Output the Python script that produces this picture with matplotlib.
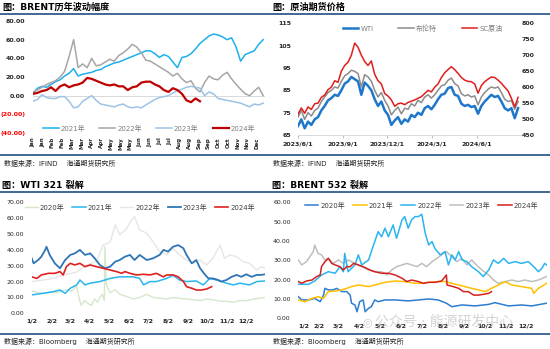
import numpy as np
import pandas as pd
import matplotlib
matplotlib.use('Agg')
import matplotlib.pyplot as plt
from matplotlib.lines import Line2D

plt.rcParams['font.family'] = ['DejaVu Sans', 'Noto Sans CJK SC']
plt.rcParams['axes.unicode_minus'] = False

# ---------------- data ----------------
# panel 1: BRENT yearly change, weekly samples
months_p1 = ['Jan', 'Jan', 'Feb', 'Feb', 'Mar', 'Mar', 'Apr', 'Apr', 'May', 'May', 'May', 'Jun',
             'Jun', 'Jul', 'Jul', 'Aug', 'Aug', 'Sep', 'Sep', 'Oct', 'Oct', 'Nov', 'Nov', 'Dec']
brent_2021 = [2, 8, 10, 9, 12, 15, 17, 21, 24, 29, 21, 23, 24, 25, 27, 28, 31, 33, 35, 36,
              38, 40, 42, 44, 46, 48, 48, 45, 41, 44, 42, 36, 30, 41, 42, 45, 50, 56, 60, 64,
              66, 65, 63, 60, 62, 52, 37, 44, 46, 48, 55, 60]
brent_2022 = [4, 6, 9, 12, 14, 16, 20, 26, 42, 60, 30, 34, 30, 40, 32, 33, 36, 39, 37, 43,
              46, 50, 55, 52, 46, 38, 37, 34, 31, 28, 25, 21, 24, 18, 14, 16, 8, 4, 14, 21,
              18, 17, 22, 25, 18, 12, 7, 2, 0, 5, 9, 0]
brent_2023 = [-6, -4, 1, -2, -3, -3, -1, -1, -6, -13, -12, -6, -3, 0, -5, -9, -10, -11, -12, -10,
              -9, -12, -13, -12, -13, -10, -7, -4, -2, -1, 0, 3, 5, 7, 9, 10, 9, 8, 0, 4,
              2, -3, -4, -5, -6, -7, -8, -10, -12, -9, -10, -8]
brent_2024 = [2, 3, 5, 6, 9, 5, 10, 12, 9, 11, 12, 14, 19, 18, 16, 14, 12, 11, 12, 10,
              10, 6, 9, 10, 14, 15, 15, 12, 10, 6, 4, 8, 6, 2, -5, -7, -3, -6]

# panel 2: crude futures prices, weekly samples
wti = [69, 72, 68, 71, 69.5, 72, 73, 76, 78, 80.5, 81.5, 83, 82.5, 85, 88, 89, 91, 90, 89, 83,
       88.5, 87, 85, 81, 78, 80, 76, 74, 69.5, 71.5, 73, 70, 72, 71, 74, 73, 75, 74, 77, 78,
       76.5, 78.5, 81, 83, 83.5, 86, 86.5, 83, 82.5, 79, 78, 78.5, 77.5, 78, 74.5, 78, 80, 81.5, 83, 82,
       82.5, 80, 77, 76, 77, 72.5, 77]
brent = [73, 76, 72, 75, 73.5, 76, 77, 80, 82, 84, 85, 86.5, 86, 89, 91.5, 92.5, 94, 93.5, 92.5, 86.5,
         92, 91, 89, 85, 82, 84, 80.5, 78, 74, 76, 77.5, 74.5, 77, 76.5, 79, 78, 80.5, 79.5, 82, 83,
         81.5, 83, 85, 87, 87.5, 89.5, 90.5, 88, 87, 83.5, 82.5, 83, 82, 82.5, 78.5, 82, 84, 85.5, 86.5, 86,
         86.5, 84, 81, 80, 80.5, 76.5, 80]
sc = [515, 535, 518, 538, 530, 548, 550, 568, 575, 592, 600, 620, 615, 650, 668, 678, 700, 738, 725, 700,
      680, 668, 682, 640, 620, 610, 580, 572, 560, 540, 548, 550, 545, 552, 556, 560, 565, 570, 580, 590,
      585, 600, 610, 630, 645, 655, 664, 655, 643, 630, 622, 618, 617, 610, 581, 605, 617, 625, 632, 630,
      622, 612, 600, 588, 565, 538, 568]
p2_dates = pd.date_range('2023-06-01', '2024-08-24', periods=len(wti))
p2_ticks = ['2023-06-01', '2023-09-01', '2023-12-01', '2024-03-01', '2024-06-01']
p2_ticklabels = ['2023/6/1', '2023/9/1', '2023/12/1', '2024/3/1', '2024/6/1']

# panels 3/4: day offset from Jan 2
month_days = [0, 31, 59, 90, 120, 151, 181, 212, 243, 273, 304, 334]
month_labels = ['1/2', '2/2', '3/2', '4/2', '5/2', '6/2', '7/2', '8/2', '9/2', '10/2', '11/2', '12/2']

# WTI 321 crack
w20_d = [0, 10, 20, 28, 40, 54, 62, 70, 74, 77, 82, 88, 93, 98, 103, 106, 110, 113, 114, 116, 122, 130,
         137, 148, 158, 168, 179, 189, 200, 210, 220, 230, 241, 252, 262, 272, 283, 295, 305, 314, 324,
         334, 345, 355, 363]
w20_v = [14, 13, 12.5, 13.5, 13, 15, 14, 17, 9, 5, 8, 6, 5, 9, 7, 10, 12, 8, 42, 18, 13, 15,
         12, 10.5, 9, 10, 12, 10, 9.5, 9, 10, 9.5, 9, 8.5, 8, 9, 8.5, 7.5, 7.5, 7, 8,
         8, 9, 9.5, 10]
w21_d = [0, 18, 34, 44, 52, 60, 70, 75, 83, 91, 106, 122, 137, 158, 168, 174, 184, 194, 210, 220,
         230, 241, 256, 267, 277, 288, 303, 314, 324, 339, 350, 363]
w21_v = [11.6, 12.6, 13.7, 14.7, 12.6, 15.8, 17.9, 21, 17.9, 19, 20, 22, 23, 23, 22, 17.9, 20, 20, 22, 24,
         21, 20, 20.4, 17.9, 22, 21, 19, 17.9, 19, 17.9, 20, 20.4]
w22_d = [0, 18, 34, 49, 70, 85, 101, 111, 122, 130, 137, 148, 155, 160, 168, 179, 189, 199, 210, 220,
         230, 241, 251, 262, 272, 282, 293, 300, 308, 319, 329, 339, 350, 357, 363]
w22_v = [20, 21, 22, 24, 26, 30.5, 32.6, 43, 45, 55.7, 49.4, 53.6, 58.9, 61, 52.6, 50.5, 45, 38.9, 36.8, 41,
         36.8, 33.6, 31.5, 33.6, 30.5, 34.7, 43, 34.7, 36.8, 35.7, 32.6, 31.5, 27.3, 29.4, 28.4]
w23_d = [0, 3, 10, 15, 21, 23, 28, 36, 44, 52, 60, 67, 75, 83, 91, 98, 106, 114, 122, 130, 137, 145,
         153, 160, 168, 179, 189, 199, 205, 212, 220, 228, 236, 241, 249, 256, 262, 270, 275, 282, 290,
         295, 303, 311, 319, 326, 334, 342, 350, 357, 363]
w23_v = [34.7, 31.5, 33.6, 35.7, 40, 42, 36.8, 31.5, 28.4, 33.6, 36.8, 37.8, 40, 36.8, 37.8, 34.7, 30.5,
         28.4, 29.4, 32.6, 33.6, 35.7, 36.8, 33.6, 36.8, 33.6, 34.7, 36.8, 40, 38.9, 42, 43, 41, 36.8,
         31.5, 33.6, 28.4, 24.2, 22, 22, 21, 20, 21, 23, 24.2, 23, 24.6, 23, 24.2, 24.2, 24.6]
w24_d = [0, 8, 15, 26, 36, 44, 49, 54, 60, 67, 75, 83, 91, 101, 111, 122, 132, 140, 145, 153, 163, 174,
         184, 194, 205, 210, 220, 228, 236, 241, 249, 256, 264, 272, 280]
w24_v = [23, 22, 24.2, 25.2, 25.2, 26.3, 24.2, 29.4, 31.5, 30.5, 31.5, 29.4, 30.5, 29.4, 28.4, 27.3, 26.3,
         25.2, 26.3, 25.2, 24.2, 24.6, 24.2, 25.2, 23, 24.2, 24.2, 23, 20, 16.8, 15.8, 14.7, 14.7, 15.3, 16.8]

# BRENT 532 crack
b20_d = [0, 5, 15, 24, 32, 37, 39, 44, 51, 56, 64, 71, 76, 78, 83, 86, 90, 95, 98, 103, 107, 112, 117,
         127, 142, 161, 176, 191, 205, 217, 225, 240, 259, 279, 288, 308, 327, 342, 364]
b20_v = [11.2, 9.5, 9.5, 10.3, 8.6, 12, 15.5, 14.7, 14.7, 15.5, 13.8, 13.8, 12, 7.8, 6.9, 3.4, 8.6, 9.5,
         3.4, 5.2, 6, 9.5, 8.6, 9.5, 9.5, 9, 9.5, 10, 9.5, 7.8, 6, 6.9, 6.4, 7.2, 8.1, 6.4, 6.9, 6.4, 7.8]
b21_d = [0, 10, 20, 29, 37, 44, 54, 64, 71, 78, 88, 103, 112, 127, 142, 156, 171, 181, 191, 205, 215,
         225, 235, 244, 254, 264, 274, 283, 293, 303, 313, 327, 342, 345, 352, 364]
b21_v = [9.5, 8.6, 10.3, 11.2, 10.3, 13.8, 14.1, 14.7, 15.5, 16.4, 17.2, 16.4, 17.2, 18.6, 19.3, 19, 18.1,
         18.1, 18.6, 19, 19, 18.1, 17.2, 16.4, 15.5, 14.7, 13.8, 15.5, 17.2, 19, 17.2, 16.4, 15.5, 12.9,
         15.5, 18.1]
b22_d = [0, 15, 24, 34, 44, 54, 61, 66, 68, 73, 83, 88, 93, 103, 107, 112, 117, 122, 127, 132, 139, 144,
         152, 156, 161, 166, 171, 176, 181, 186, 191, 196, 200, 208, 215, 220, 225, 230, 235, 240, 247,
         254, 264, 271, 279, 286, 293, 301, 308, 318, 327, 337, 345, 352, 357, 361, 364]
b22_v = [17.6, 17.6, 19.3, 22.4, 24.1, 23.3, 26.7, 24.1, 33.6, 24.1, 27.6, 32.8, 27.6, 30.2, 34.5, 39.7,
         44.8, 42.2, 46.6, 42.2, 48.3, 41.4, 50.9, 52.6, 46.6, 50.9, 52.6, 52.6, 53.8, 44, 37.9, 39.7,
         36.2, 32.8, 34.5, 27.6, 32.8, 30.2, 34.5, 30.2, 29.3, 26.7, 24.1, 21.6, 25, 30.2, 28.4, 31,
         28.4, 29.3, 28.4, 29.3, 26.7, 24.1, 25.9, 28.4, 27.6]
b23_d = [0, 5, 12, 17, 22, 24, 29, 34, 39, 44, 51, 59, 66, 73, 83, 93, 103, 112, 122, 130, 137, 144,
         152, 159, 166, 174, 181, 188, 196, 203, 210, 217, 225, 232, 240, 247, 254, 261, 269, 279, 286,
         293, 303, 313, 322, 332, 342, 352, 364]
b23_v = [30.2, 27.6, 29.3, 31.9, 34.5, 37.9, 33.6, 32.8, 30.2, 31, 28.4, 30.2, 28.4, 30.2, 28.4, 26.7,
         25, 24.1, 24.1, 22.4, 25, 26.7, 27.6, 28.4, 27.6, 26.7, 28.4, 26.7, 29.3, 31, 32.8, 34.5, 31.9,
         29.3, 31, 27.6, 30.2, 27.6, 25, 22.4, 19.8, 18.1, 19, 19.8, 19, 19.8, 19, 19.8, 21.6]
b24_d = [0, 5, 12, 20, 27, 32, 34, 39, 44, 49, 54, 61, 66, 71, 76, 81, 88, 95, 105, 112, 122, 132, 142,
         152, 159, 166, 176, 183, 191, 200, 210, 217, 218, 227, 235, 242, 249, 257, 264, 271, 279, 283]
b24_v = [19, 18.1, 19.3, 19.8, 21.6, 22.4, 26.7, 29.3, 31, 28.4, 27.6, 26.7, 25, 26.7, 26.7, 28.4, 27.6,
         26.7, 25, 24.1, 23.3, 23.3, 22.4, 20.7, 19, 19.8, 19, 18.1, 18.6, 18.6, 19.3, 22.4, 17.2, 16.4,
         15.5, 13.8, 13.8, 12, 12, 12.4, 12.9, 13.8]

# ---------------- layout helpers (pixel based) ----------------
W, H = 550, 349
HEAD = '#2F5D8C'
fig = plt.figure(figsize=(W / 100, H / 100), dpi=100)


def add_ax(x0, y0, x1, y1):
    return fig.add_axes([x0 / W, 1 - y1 / H, (x1 - x0) / W, (y1 - y0) / H])


def ftext(x, y, s, **kw):
    fig.text(x / W, 1 - y / H, s, va='center', **kw)


def hline(y):
    fig.add_artist(Line2D([0, 1], [1 - y / H] * 2, color=HEAD, lw=1.3, transform=fig.transFigure))


def clean(ax):
    for s in ax.spines.values():
        s.set_visible(False)


hline(13.5)
hline(154.5)
hline(191.7)
hline(334.0)

ftext(2, 7, '图：BRENT历年波动幅度', fontsize=6.6, fontweight='bold')
ftext(272, 7, '图：原油期货价格', fontsize=6.6, fontweight='bold')
ftext(2, 185.5, '图：WTI 321 裂解', fontsize=6.6, fontweight='bold')
ftext(272, 185.5, '图：BRENT 532 裂解', fontsize=6.6, fontweight='bold')
src_kw = dict(fontsize=5, color='#262626')
ftext(4, 163, '数据来源：IFIND    海通期货研究所', **src_kw)
ftext(273, 163, '数据来源：IFIND    海通期货研究所', **src_kw)
ftext(4, 341.5, '数据来源：Bloomberg    海通期货研究所', **src_kw)
ftext(273, 341, '数据来源：Bloomberg    海通期货研究所', **src_kw)

# ---------------- panel 1 ----------------
ax1 = add_ax(33, 21, 265, 133)
clean(ax1)
ax1.axhline(0, color='#D9D9D9', lw=0.7)
ax1.plot(np.arange(len(brent_2021)), brent_2021, color='#1CB0EE', lw=1.1, label='2021年')
ax1.plot(np.arange(len(brent_2022)), brent_2022, color='#A6A6A6', lw=1.1, label='2022年')
ax1.plot(np.arange(len(brent_2023)), brent_2023, color='#9DC3E6', lw=1.1, label='2023年')
ax1.plot(np.arange(len(brent_2024)), brent_2024, color='#C00000', lw=1.6, label='2024年')
ax1.set_xlim(0, 51.4)
ax1.set_ylim(-40, 80)
yv = list(range(-40, 81, 20))
ax1.set_yticks(yv)
ax1.set_yticklabels([f'{v:.2f}' if v >= 0 else f'({-v:.2f})' for v in yv], fontsize=4.5, fontweight='bold')
for t, v in zip(ax1.get_yticklabels(), yv):
    t.set_color('#FF0000' if v < 0 else '#262626')
ax1.set_xticks(np.arange(len(months_p1)) * 2.16)
ax1.set_xticklabels(months_p1, rotation=90, fontsize=4, fontweight='bold', color='#262626')
ax1.tick_params(axis='y', length=0, pad=5.5)
ax1.tick_params(axis='x', length=0, pad=3)
ax1.legend(loc='center', bbox_to_anchor=(0.5, 0.045), ncol=4, frameon=False, fontsize=5,
           handlelength=2.3, handletextpad=0.3, columnspacing=2.0, labelcolor='#7F7F7F')

# ---------------- panel 2 ----------------
ax2 = add_ax(298, 23.3, 520.5, 135)
ax2r = ax2.twinx()
for a in (ax2, ax2r):
    clean(a)
ax2.spines['bottom'].set_visible(True)
ax2.spines['bottom'].set_color('#D9D9D9')
ax2.spines['bottom'].set_linewidth(0.7)
l_wti, = ax2.plot(p2_dates, wti, color='#1F77CC', lw=1.8, label='WTI')
l_brent, = ax2.plot(p2_dates, brent, color='#8C8C8C', lw=1.1, label='布伦特')
l_sc, = ax2r.plot(p2_dates, sc, color='#E01E1E', lw=1.1, label='SC原油')
ax2.set_xlim(pd.Timestamp('2023-06-01'), pd.Timestamp('2024-08-29'))
ax2.set_ylim(65, 115)
ax2r.set_ylim(450, 800)
ax2.set_yticks(range(65, 116, 10))
ax2r.set_yticks(range(450, 801, 50))
ax2.set_xticks(pd.to_datetime(p2_ticks))
ax2.set_xticklabels(p2_ticklabels, fontsize=4.5, fontweight='bold', color='#262626')
ax2.tick_params(axis='x', length=2.5, color='#BFBFBF', pad=2.5)
ax2.tick_params(axis='y', length=0, pad=4.5, labelsize=4.5)
ax2r.tick_params(axis='y', length=0, pad=1, labelsize=4.5)
for t in ax2.get_yticklabels() + ax2r.get_yticklabels():
    t.set_fontweight('bold')
    t.set_color('#262626')
ax2r.legend(handles=[l_wti, l_brent, l_sc], loc='center', bbox_to_anchor=(0.56, 0.958), ncol=3,
            frameon=False, fontsize=5, handlelength=2.2, handletextpad=0.3, columnspacing=3.6,
            labelcolor='#7F7F7F')

# ---------------- panel 3 ----------------
ax3 = add_ax(31.7, 202.3, 265, 313.3)
clean(ax3)
ax3.plot(w20_d, w20_v, color='#D5E8CC', lw=1.0, label='2020年')
ax3.plot(w22_d, w22_v, color='#E6E6E6', lw=1.0, label='2022年')
ax3.plot(w21_d, w21_v, color='#29B5F0', lw=1.1, label='2021年')
ax3.plot(w23_d, w23_v, color='#2E75B6', lw=1.3, label='2023年')
ax3.plot(w24_d, w24_v, color='#E02020', lw=1.2, label='2024年')
ax3.set_xlim(0, 363)
ax3.set_ylim(0, 70)
ax3.set_yticks(range(0, 71, 10))
ax3.set_yticklabels([f'{v:.2f}' for v in range(0, 71, 10)], fontsize=4.5, color='#262626')
ax3.set_xticks(month_days)
ax3.set_xticklabels(month_labels, fontsize=4.5, fontweight='bold', color='#262626')
ax3.tick_params(axis='y', length=0, pad=5.5)
ax3.tick_params(axis='x', length=0, pad=3.5)
h3, lb3 = ax3.get_legend_handles_labels()
order = [0, 2, 1, 3, 4]
ax3.legend([h3[i] for i in order], [lb3[i] for i in order], loc='center', bbox_to_anchor=(0.464, 0.955),
           ncol=5, frameon=False, fontsize=5, handlelength=1.9, handletextpad=0.3, columnspacing=1.1,
           labelcolor='#404040')

# ---------------- panel 4 ----------------
ax4 = add_ax(298.3, 202.3, 546.7, 318.3)
clean(ax4)
ax4.plot(b23_d, b23_v, color='#BFBFBF', lw=1.1, label='2023年')
ax4.plot(b20_d, b20_v, color='#2E7DD0', lw=1.1, label='2020年')
ax4.plot(b21_d, b21_v, color='#FFC000', lw=1.1, label='2021年')
ax4.plot(b22_d, b22_v, color='#29B5F0', lw=1.1, label='2022年')
ax4.plot(b24_d, b24_v, color='#D42020', lw=1.1, label='2024年')
ax4.set_xlim(0, 364)
ax4.set_ylim(0, 60)
ax4.set_yticks(range(0, 61, 10))
ax4.set_yticklabels([f'{v:.2f}' for v in range(0, 61, 10)], fontsize=4.5, color='#262626')
ax4.set_xticks(month_days)
ax4.set_xticklabels(month_labels, fontsize=4.5, fontweight='bold', color='#262626')
ax4.get_xticklabels()[0].set_ha('left')
ax4.tick_params(axis='y', length=0, pad=5.5)
ax4.tick_params(axis='x', length=0, pad=3.5)
h4, lb4 = ax4.get_legend_handles_labels()
order = [1, 2, 3, 0, 4]
ax4.legend([h4[i] for i in order], [lb4[i] for i in order], loc='center', bbox_to_anchor=(0.496, 0.977),
           ncol=5, frameon=False, fontsize=5, handlelength=2.0, handletextpad=0.3, columnspacing=1.1,
           labelcolor='#404040')

# watermark (faint, as in the source image)
ftext(362, 322, '◎', fontsize=8, color='#9A9A9A', alpha=0.5)
ftext(375, 322, '公众号 · 能源研发中心', fontsize=10, color='#A0A0A0', alpha=0.45)

fig.savefig('out.png', dpi=100)
